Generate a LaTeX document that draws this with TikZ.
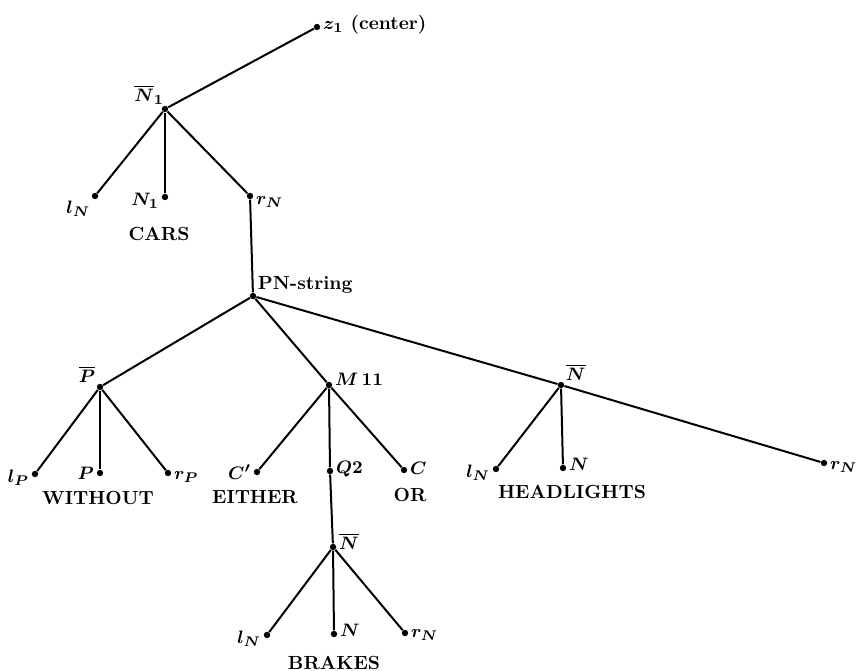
\documentclass[tikz,border=0pt]{standalone}
\usepackage{amsmath,amssymb}
\usetikzlibrary{positioning}

\begin{document}
\begin{tikzpicture}[x=0.5pt, y=-0.5pt,
    dot/.style={circle, fill, inner sep=0pt, minimum size=3.2pt},
    lbl/.style={font=\fontsize{9.5}{11}\selectfont\bfseries\boldmath, inner sep=1pt},
    word/.style={font=\fontsize{9.5}{11}\selectfont\bfseries, inner sep=1pt},
    edge/.style={line width=1pt}]
\useasboundingbox (0,0) rectangle (866,670);

\node[dot, label={[lbl, yshift=1pt]right:$z_1$ (center)}] (z1) at (317,27) {};
\node[dot, label={[lbl, xshift=2pt]above left:$\overline{N}_1$}] (nbar1) at (165,109) {};
\node[dot, label={[lbl]below left:$l_N$}] (ln1) at (95,196) {};
\node[dot, label={[lbl, yshift=-2pt]left:$N_1$}] (n1) at (165,197) {};
\node[dot, label={[lbl, yshift=-3pt]right:$r_N$}] (rn1) at (250,196) {};
\node[word, below=12pt of n1, xshift=-3pt] (cars) {CARS};

\node[dot, label={[lbl, yshift=-1pt]above right:PN-string}] (pn) at (253,296) {};

\node[dot, label={[lbl]above left:$\overline{P}$}] (pbar) at (100,387) {};
\node[dot, label={[lbl, yshift=-2pt]left:$l_P$}] (lp) at (35,474) {};
\node[dot, label={[lbl]left:$P$}] (p) at (100,473) {};
\node[dot, label={[lbl, yshift=-2pt]right:$r_P$}] (rp) at (168,473) {};
\node[word, below=6pt of p, xshift=-1pt] (without) {WITHOUT};

\node[dot, label={[lbl, yshift=3pt]right:$M\,11$}] (m11) at (329,385) {};
\node[dot, label={[lbl]left:$C'$}] (cp) at (257,472) {};
\node[dot, label={[lbl, yshift=1pt]right:$Q2$}] (q2) at (330,471) {};
\node[dot, label={[lbl, yshift=1pt]right:$C$}] (c) at (404,470) {};
\node[word, below=6pt of cp, xshift=-1pt] (either) {EITHER};
\node[word, below=6pt of c, xshift=3pt] (or) {OR};

\node[dot, label={[lbl, yshift=3pt]right:$\overline{N}$}] (nbar2) at (333,547) {};
\node[dot, label={[lbl, yshift=-2pt]left:$l_N$}] (ln2) at (267,635) {};
\node[dot, label={[lbl, yshift=2pt]right:$N$}] (n2) at (334,634) {};
\node[dot, label={[lbl, yshift=-1pt]right:$r_N$}] (rn2) at (405,633) {};
\node[word, below=8pt of n2] (brakes) {BRAKES};

\node[dot, label={[lbl]above right:$\overline{N}$}] (nbar3) at (561,385) {};
\node[dot, label={[lbl, yshift=-2pt]left:$l_N$}] (ln3) at (496,469) {};
\node[dot, label={[lbl, yshift=2pt]right:$N$}] (n3) at (563,468) {};
\node[dot, label={[lbl, yshift=-2pt]right:$r_N$}] (rn3) at (824,463) {};
\node[word, below=5.5pt of n3, xshift=4.5pt] (headlights) {HEADLIGHTS};

\draw[edge] (nbar1) -- (z1);
\draw[edge] (nbar1) -- (ln1);
\draw[edge] (nbar1) -- (n1);
\draw[edge] (nbar1) -- (rn1);
\draw[edge] (rn1) -- (pn);
\draw[edge] (pn) -- (pbar);
\draw[edge] (pn) -- (m11);
\draw[edge] (pn) -- (nbar3);
\draw[edge] (pbar) -- (lp);
\draw[edge] (pbar) -- (p);
\draw[edge] (pbar) -- (rp);
\draw[edge] (m11) -- (cp);
\draw[edge] (m11) -- (q2);
\draw[edge] (m11) -- (c);
\draw[edge] (q2) -- (nbar2);
\draw[edge] (nbar2) -- (ln2);
\draw[edge] (nbar2) -- (n2);
\draw[edge] (nbar2) -- (rn2);
\draw[edge] (nbar3) -- (ln3);
\draw[edge] (nbar3) -- (n3);
\draw[edge] (nbar3) -- (rn3);

\end{tikzpicture}
\end{document}
